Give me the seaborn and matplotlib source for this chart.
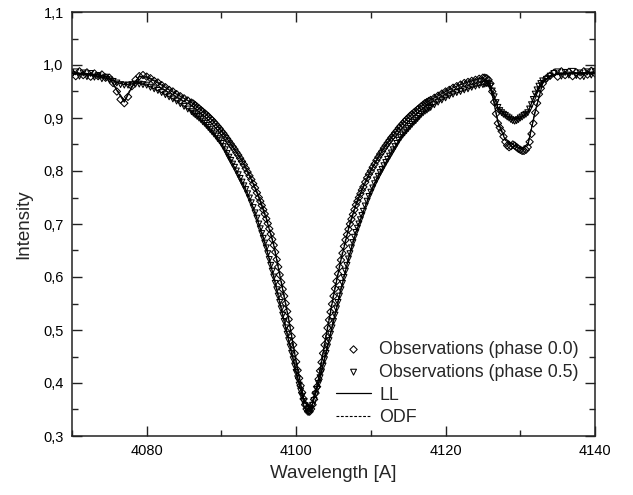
import matplotlib
matplotlib.use("Agg")
import matplotlib.pyplot as plt
from matplotlib.ticker import MultipleLocator, FuncFormatter
import seaborn as sns
import pandas as pd

# ---------------- data ----------------
# observed wavelengths [A], in segments (finer sampling where the profile is steep)
wl_seg1 = [4070.0, 4070.5, 4071.0, 4071.5, 4072.0, 4072.5, 4073.0, 4073.5,
           4074.0, 4074.5, 4075.0, 4075.5, 4076.0, 4076.5, 4077.0, 4077.5,
           4078.0, 4078.5, 4079.0, 4079.5, 4080.0, 4080.5, 4081.0, 4081.5,
           4082.0, 4082.5, 4083.0, 4083.5, 4084.0, 4084.5, 4085.0, 4085.5]
wl_seg2 = [4086.0, 4086.25, 4086.5, 4086.75, 4087.0, 4087.25, 4087.5, 4087.75,
           4088.0, 4088.25, 4088.5, 4088.75, 4089.0, 4089.25, 4089.5, 4089.75,
           4090.0, 4090.25, 4090.5, 4090.75, 4091.0, 4091.25, 4091.5, 4091.75,
           4092.0, 4092.25, 4092.5, 4092.75, 4093.0, 4093.25, 4093.5, 4093.75,
           4094.0, 4094.25, 4094.5, 4094.75]
wl_seg3 = [4095.0, 4095.2, 4095.4, 4095.6, 4095.8, 4096.0, 4096.2, 4096.4, 4096.6, 4096.8,
           4097.0, 4097.2, 4097.4, 4097.6, 4097.8, 4098.0, 4098.2, 4098.4, 4098.6, 4098.8,
           4099.0, 4099.2, 4099.4, 4099.6, 4099.8, 4100.0, 4100.2, 4100.4, 4100.6, 4100.8,
           4101.0, 4101.2, 4101.4, 4101.6, 4101.8, 4102.0, 4102.2, 4102.4, 4102.6, 4102.8,
           4103.0, 4103.2, 4103.4, 4103.6, 4103.8, 4104.0, 4104.2, 4104.4, 4104.6, 4104.8,
           4105.0, 4105.2, 4105.4, 4105.6, 4105.8, 4106.0, 4106.2, 4106.4, 4106.6, 4106.8,
           4107.0, 4107.2, 4107.4, 4107.6, 4107.8, 4108.0, 4108.2, 4108.4, 4108.6, 4108.8]
wl_seg4 = [4109.0, 4109.25, 4109.5, 4109.75, 4110.0, 4110.25, 4110.5, 4110.75,
           4111.0, 4111.25, 4111.5, 4111.75, 4112.0, 4112.25, 4112.5, 4112.75,
           4113.0, 4113.25, 4113.5, 4113.75, 4114.0, 4114.25, 4114.5, 4114.75,
           4115.0, 4115.25, 4115.5, 4115.75, 4116.0, 4116.25, 4116.5, 4116.75,
           4117.0, 4117.25, 4117.5, 4117.75]
wl_seg5 = [4118.0, 4118.5, 4119.0, 4119.5, 4120.0, 4120.5, 4121.0, 4121.5,
           4122.0, 4122.5, 4123.0, 4123.5, 4124.0, 4124.5, 4125.0]
wl_seg6 = [4125.25, 4125.5, 4125.75, 4126.0, 4126.25, 4126.5, 4126.75, 4127.0,
           4127.25, 4127.5, 4127.75, 4128.0, 4128.25, 4128.5, 4128.75, 4129.0,
           4129.25, 4129.5, 4129.75, 4130.0, 4130.25, 4130.5, 4130.75, 4131.0,
           4131.25, 4131.5, 4131.75, 4132.0, 4132.25, 4132.5, 4132.75, 4133.0]
wl_seg7 = [4133.5, 4134.0, 4134.5, 4135.0, 4135.5, 4136.0, 4136.5,
           4137.0, 4137.5, 4138.0, 4138.5, 4139.0, 4139.5, 4140.0]

# observations, phase 0.0 (diamonds)
ph00_seg1 = [0.985, 0.979, 0.988, 0.981, 0.986, 0.978, 0.984, 0.979,
             0.982, 0.976, 0.976, 0.966, 0.950, 0.935, 0.928, 0.940,
             0.960, 0.972, 0.979, 0.981, 0.978, 0.975, 0.970, 0.967,
             0.962, 0.958, 0.953, 0.950, 0.945, 0.941, 0.937, 0.933]
ph00_seg2 = [0.929, 0.927, 0.924, 0.921, 0.918, 0.915, 0.912, 0.909,
             0.906, 0.903, 0.899, 0.896, 0.892, 0.888, 0.884, 0.880,
             0.875, 0.871, 0.866, 0.861, 0.856, 0.851, 0.846, 0.841,
             0.835, 0.830, 0.824, 0.818, 0.812, 0.805, 0.798, 0.791,
             0.784, 0.776, 0.768, 0.759]
ph00_seg3 = [0.750, 0.743, 0.735, 0.727, 0.719, 0.710, 0.701, 0.691, 0.681, 0.671,
             0.660, 0.647, 0.633, 0.619, 0.604, 0.590, 0.577, 0.564, 0.550, 0.535,
             0.520, 0.504, 0.488, 0.472, 0.456, 0.440, 0.424, 0.409, 0.395, 0.382,
             0.370, 0.359, 0.351, 0.346, 0.346, 0.351, 0.359, 0.369, 0.381, 0.393,
             0.407, 0.423, 0.439, 0.456, 0.472, 0.488, 0.504, 0.519, 0.534, 0.549,
             0.564, 0.578, 0.592, 0.606, 0.619, 0.632, 0.645, 0.658, 0.670, 0.680,
             0.690, 0.700, 0.709, 0.718, 0.727, 0.736, 0.743, 0.750, 0.757, 0.764]
ph00_seg4 = [0.770, 0.779, 0.787, 0.794, 0.800, 0.807, 0.813, 0.820,
             0.826, 0.832, 0.837, 0.843, 0.848, 0.853, 0.858, 0.863,
             0.867, 0.872, 0.876, 0.881, 0.885, 0.889, 0.893, 0.897,
             0.900, 0.904, 0.907, 0.910, 0.913, 0.916, 0.919, 0.922,
             0.925, 0.928, 0.930, 0.932]
ph00_seg5 = [0.934, 0.938, 0.942, 0.946, 0.950, 0.953, 0.957, 0.960,
             0.963, 0.966, 0.968, 0.970, 0.972, 0.974, 0.976]
ph00_seg6 = [0.976, 0.975, 0.972, 0.965, 0.950, 0.930, 0.908, 0.890,
             0.882, 0.875, 0.865, 0.855, 0.848, 0.845, 0.847, 0.850,
             0.848, 0.845, 0.842, 0.840, 0.838, 0.838, 0.840, 0.845,
             0.855, 0.870, 0.890, 0.910, 0.928, 0.945, 0.956, 0.965]
ph00_seg7 = [0.975, 0.980, 0.985, 0.978, 0.988, 0.981, 0.987,
             0.979, 0.986, 0.980, 0.988, 0.982, 0.989, 0.984]

# observations, phase 0.5 (triangles)
ph05_seg1 = [0.982, 0.987, 0.979, 0.985, 0.978, 0.984, 0.977, 0.980,
             0.974, 0.977, 0.972, 0.969, 0.966, 0.963, 0.962, 0.962,
             0.963, 0.964, 0.964, 0.963, 0.962, 0.958, 0.955, 0.952,
             0.948, 0.944, 0.940, 0.936, 0.932, 0.927, 0.922, 0.917]
ph05_seg2 = [0.912, 0.909, 0.906, 0.903, 0.900, 0.897, 0.893, 0.890,
             0.886, 0.882, 0.878, 0.874, 0.870, 0.866, 0.861, 0.857,
             0.852, 0.846, 0.840, 0.833, 0.826, 0.820, 0.813, 0.807,
             0.800, 0.793, 0.786, 0.779, 0.772, 0.765, 0.757, 0.749,
             0.740, 0.731, 0.721, 0.711]
ph05_seg3 = [0.700, 0.691, 0.682, 0.673, 0.664, 0.655, 0.644, 0.633, 0.622, 0.611,
             0.600, 0.588, 0.576, 0.564, 0.552, 0.540, 0.528, 0.516, 0.504, 0.492,
             0.480, 0.468, 0.456, 0.444, 0.432, 0.420, 0.408, 0.396, 0.385, 0.375,
             0.365, 0.357, 0.351, 0.347, 0.347, 0.351, 0.358, 0.367, 0.378, 0.388,
             0.399, 0.410, 0.421, 0.432, 0.444, 0.456, 0.468, 0.480, 0.492, 0.504,
             0.516, 0.528, 0.540, 0.552, 0.564, 0.576, 0.588, 0.599, 0.611, 0.622,
             0.634, 0.644, 0.655, 0.665, 0.675, 0.684, 0.692, 0.700, 0.708, 0.716]
ph05_seg4 = [0.724, 0.734, 0.743, 0.752, 0.760, 0.768, 0.776, 0.783,
             0.790, 0.797, 0.803, 0.810, 0.816, 0.822, 0.828, 0.834,
             0.840, 0.846, 0.852, 0.858, 0.863, 0.868, 0.872, 0.876,
             0.880, 0.884, 0.888, 0.892, 0.895, 0.899, 0.903, 0.907,
             0.910, 0.913, 0.915, 0.918]
ph05_seg5 = [0.920, 0.925, 0.930, 0.934, 0.938, 0.942, 0.945, 0.948,
             0.950, 0.953, 0.955, 0.958, 0.960, 0.962, 0.963]
ph05_seg6 = [0.964, 0.965, 0.964, 0.960, 0.951, 0.940, 0.929, 0.920,
             0.914, 0.910, 0.907, 0.905, 0.902, 0.900, 0.897, 0.895,
             0.894, 0.895, 0.897, 0.900, 0.902, 0.905, 0.907, 0.910,
             0.917, 0.925, 0.935, 0.945, 0.953, 0.960, 0.965, 0.970]
ph05_seg7 = [0.973, 0.979, 0.984, 0.987, 0.979, 0.986, 0.981,
             0.988, 0.980, 0.985, 0.978, 0.987, 0.981, 0.988]

# synthetic spectra (1 A sampling)
wl_model = [
    4070, 4071, 4072, 4073, 4074, 4075, 4076, 4077, 4078, 4079,
    4080, 4081, 4082, 4083, 4084, 4085, 4086, 4087, 4088, 4089,
    4090, 4091, 4092, 4093, 4094, 4095, 4096, 4097, 4098, 4099,
    4100, 4101, 4102, 4103, 4104, 4105, 4106, 4107, 4108, 4109,
    4110, 4111, 4112, 4113, 4114, 4115, 4116, 4117, 4118, 4119,
    4120, 4121, 4122, 4123, 4124, 4125, 4126, 4127, 4128, 4129,
    4130, 4131, 4132, 4133, 4134, 4135, 4136, 4137, 4138, 4139,
    4140,
]
ll_phase00 = [
    0.984, 0.984, 0.983, 0.982, 0.980, 0.977, 0.952, 0.930, 0.958, 0.978,
    0.977, 0.970, 0.962, 0.953, 0.945, 0.937, 0.929, 0.918, 0.906, 0.892,
    0.875, 0.856, 0.835, 0.812, 0.784, 0.750, 0.710, 0.660, 0.590, 0.520,
    0.440, 0.370, 0.351, 0.407, 0.488, 0.564, 0.632, 0.690, 0.736, 0.770,
    0.800, 0.826, 0.848, 0.867, 0.885, 0.900, 0.913, 0.925, 0.934, 0.942,
    0.950, 0.957, 0.963, 0.968, 0.972, 0.976, 0.962, 0.892, 0.858, 0.850,
    0.842, 0.848, 0.912, 0.966, 0.980, 0.983, 0.984, 0.984, 0.984, 0.985,
    0.985,
]
ll_phase05 = [
    0.984, 0.983, 0.982, 0.980, 0.977, 0.973, 0.967, 0.963, 0.964, 0.965,
    0.962, 0.955, 0.948, 0.940, 0.932, 0.922, 0.912, 0.900, 0.886, 0.870,
    0.852, 0.826, 0.800, 0.772, 0.740, 0.700, 0.655, 0.600, 0.540, 0.480,
    0.420, 0.365, 0.351, 0.399, 0.456, 0.516, 0.576, 0.634, 0.684, 0.724,
    0.760, 0.790, 0.816, 0.840, 0.863, 0.880, 0.895, 0.910, 0.920, 0.930,
    0.938, 0.945, 0.950, 0.955, 0.960, 0.963, 0.960, 0.920, 0.905, 0.896,
    0.900, 0.910, 0.945, 0.970, 0.978, 0.983, 0.984, 0.984, 0.984, 0.985,
    0.985,
]
odf_phase00 = [
    0.985, 0.985, 0.984, 0.983, 0.981, 0.978, 0.954, 0.932, 0.960, 0.979,
    0.978, 0.972, 0.964, 0.956, 0.948, 0.940, 0.932, 0.921, 0.909, 0.895,
    0.878, 0.859, 0.838, 0.815, 0.787, 0.753, 0.713, 0.663, 0.593, 0.522,
    0.441, 0.371, 0.352, 0.409, 0.491, 0.567, 0.635, 0.693, 0.739, 0.773,
    0.803, 0.829, 0.851, 0.870, 0.888, 0.903, 0.916, 0.928, 0.937, 0.945,
    0.953, 0.960, 0.966, 0.971, 0.974, 0.977, 0.963, 0.894, 0.860, 0.852,
    0.844, 0.850, 0.914, 0.967, 0.981, 0.984, 0.985, 0.985, 0.985, 0.986,
    0.986,
]
odf_phase05 = [
    0.985, 0.984, 0.983, 0.981, 0.978, 0.974, 0.968, 0.965, 0.966, 0.967,
    0.964, 0.957, 0.950, 0.943, 0.935, 0.925, 0.915, 0.903, 0.889, 0.873,
    0.855, 0.829, 0.803, 0.775, 0.743, 0.703, 0.658, 0.603, 0.543, 0.482,
    0.422, 0.366, 0.352, 0.401, 0.459, 0.519, 0.579, 0.637, 0.687, 0.727,
    0.763, 0.793, 0.819, 0.843, 0.866, 0.883, 0.898, 0.913, 0.923, 0.933,
    0.941, 0.948, 0.953, 0.958, 0.962, 0.965, 0.962, 0.922, 0.907, 0.898,
    0.902, 0.912, 0.947, 0.971, 0.979, 0.984, 0.985, 0.985, 0.985, 0.986,
    0.986,
]

x_ticks = [4080, 4100, 4120, 4140]
y_ticks = [0.3, 0.4, 0.5, 0.6, 0.7, 0.8, 0.9, 1.0, 1.1]

wl_obs = wl_seg1 + wl_seg2 + wl_seg3 + wl_seg4 + wl_seg5 + wl_seg6 + wl_seg7
obs_phase00 = ph00_seg1 + ph00_seg2 + ph00_seg3 + ph00_seg4 + ph00_seg5 + ph00_seg6 + ph00_seg7
obs_phase05 = ph05_seg1 + ph05_seg2 + ph05_seg3 + ph05_seg4 + ph05_seg5 + ph05_seg6 + ph05_seg7

# ---------------- plotting ----------------
sns.set_theme(style="ticks")
plt.rcParams["font.family"] = ["Liberation Sans", "DejaVu Sans"]

fig = plt.figure(figsize=(6.33, 4.95), dpi=100)
ax = fig.add_axes([72 / 633, 1 - 436 / 495, (595 - 72) / 633, (436 - 12) / 495])

obs0 = pd.DataFrame({"wl": wl_obs, "I": obs_phase00})
obs5 = pd.DataFrame({"wl": wl_obs, "I": obs_phase05})

sns.scatterplot(data=obs0, x="wl", y="I", ax=ax, marker="D", s=14,
                facecolor="none", edgecolor="black", linewidth=0.75,
                label="Observations (phase 0.0)", zorder=2)
sns.scatterplot(data=obs5, x="wl", y="I", ax=ax, marker="v", s=18,
                facecolor="none", edgecolor="black", linewidth=0.75,
                label="Observations (phase 0.5)", zorder=2)

sns.lineplot(x=wl_model, y=ll_phase00, ax=ax, color="black", linewidth=0.9,
             label="LL", zorder=3)
sns.lineplot(x=wl_model, y=ll_phase05, ax=ax, color="black", linewidth=0.9,
             zorder=3)
sns.lineplot(x=wl_model, y=odf_phase00, ax=ax, color="black", linewidth=0.8,
             linestyle=(0, (2.5, 1.5)), label="ODF", zorder=3)
sns.lineplot(x=wl_model, y=odf_phase05, ax=ax, color="black", linewidth=0.8,
             linestyle=(0, (2.5, 1.5)), zorder=3)

ax.set_xlim(4070, 4140)
ax.set_ylim(0.3, 1.1)
ax.set_xticks(x_ticks)
ax.set_yticks(y_ticks)
ax.xaxis.set_minor_locator(MultipleLocator(10))
ax.yaxis.set_minor_locator(MultipleLocator(0.05))
ax.yaxis.set_major_formatter(FuncFormatter(lambda v, p: f"{v:.1f}".replace(".", ",")))

ax.tick_params(which="both", direction="in", top=True, right=True,
               width=1.0, color="#222222", labelsize=10.5, labelcolor="black")
ax.tick_params(which="major", length=7, pad=6)
ax.tick_params(which="minor", length=4)
for sp in ax.spines.values():
    sp.set_linewidth(1.1)
    sp.set_color("#222222")

ax.set_xlabel("Wavelength [A]", fontsize=13.5, labelpad=5)
ax.set_ylabel("Intensity", fontsize=13.5, labelpad=8)

handles, labels = ax.get_legend_handles_labels()
leg = ax.legend(handles, labels, loc="lower right", bbox_to_anchor=(0.988, 0.0),
                frameon=False, fontsize=12.8, handlelength=2.0, handletextpad=0.45,
                labelspacing=0.32, borderaxespad=0.15)

fig.savefig("out.png", dpi=100)
